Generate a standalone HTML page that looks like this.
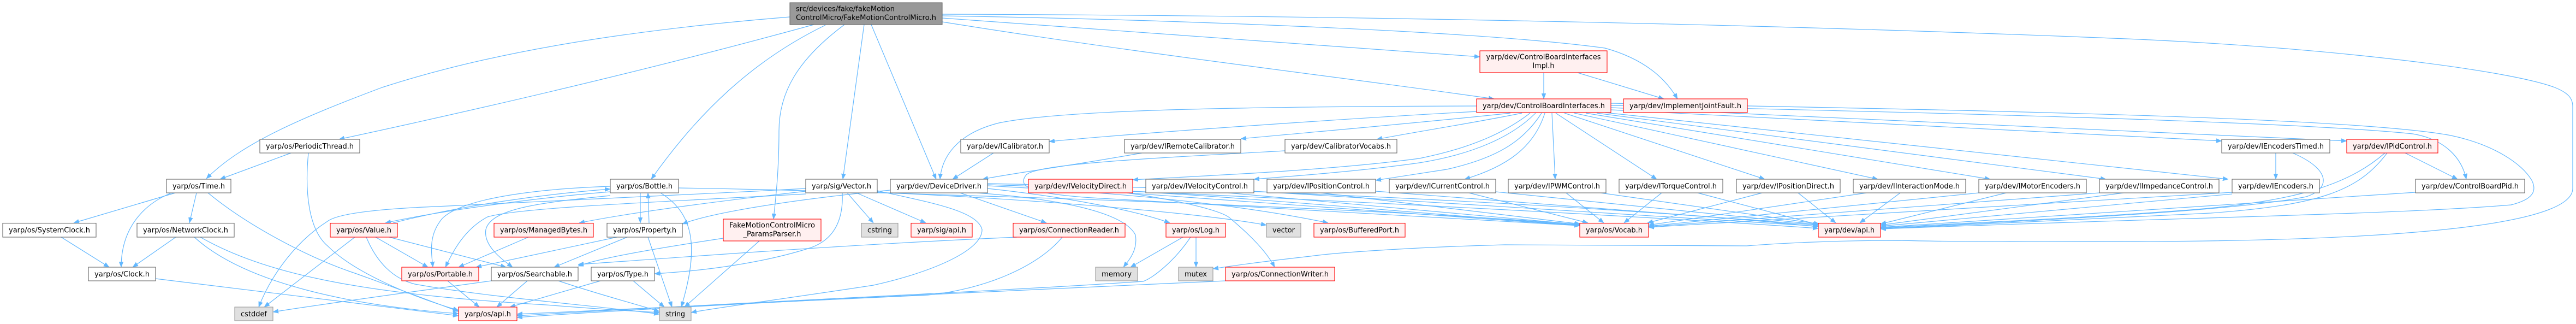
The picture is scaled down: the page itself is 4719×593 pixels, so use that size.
<!DOCTYPE html>
<html><head><meta charset="utf-8"><style>
html,body{margin:0;padding:0;background:#fff;}
svg{display:block;}
.e{fill:none;stroke:#63b8ff;stroke-width:1.2;marker-end:url(#ah);}
.n rect{stroke-width:1.1;}
.w{fill:#fff;stroke:#666;}
.r{fill:#fff0f0;stroke:#ff0000;}
.g{fill:#999;stroke:#666;}
.l{fill:#e0e0e0;stroke:#999;}
text{font-family:"DejaVu Sans","Liberation Sans",sans-serif;font-size:13px;fill:#000;}
</style></head><body>
<svg width="4719" height="593" viewBox="0 0 4719 593" xmlns="http://www.w3.org/2000/svg">
<defs><marker id="ah" markerUnits="userSpaceOnUse" viewBox="0 0 10 8" refX="10" refY="4" markerWidth="10" markerHeight="8" orient="auto"><path d="M0,0 L10,4 L0,8 z" fill="#63b8ff" stroke="#63b8ff" stroke-width="0.5"/></marker></defs>

<!-- edges -->
<path class="e" d="M1447,31 C1150,55 900,95 700,160 C540,220 440,265 378,327"/>
<path class="e" d="M1491,45 C1200,125 900,195 621,255"/>
<path class="e" d="M1512,46 C1380,110 1280,205 1193,328"/>
<path class="e" d="M1547,45 C1460,110 1427,170 1427,240 C1427,320 1420,370 1417,401"/>
<path class="e" d="M1583,45 L1544,328"/>
<path class="e" d="M1596,45 L1715,328"/>
<path class="e" d="M1726,33 C2100,60 2450,85 2711,104"/>
<path class="e" d="M1726,40 C2100,100 2450,140 2737,181"/>
<path class="e" d="M1726,29 C2100,35 2700,55 2940,88 C3020,110 3055,150 3073,181"/>
<path class="e" d="M1726,26 C2400,28 3200,42 3919,72 C4300,90 4600,130 4680,160 C4705,170 4713,180 4713,195 L4713,345 C4713,400 4500,440 3919,442 C3700,443 3550,442 3480,440 C3350,440 3250,446 3200,450 C3000,450 2800,448 2757,448 C2600,452 2450,462 2400,469 C2320,478 2260,486 2222,492"/>
<path class="e" d="M2828,133 L2828,181"/>
<path class="e" d="M2890,133 L3048,181"/>
<path class="e" d="M2705,194 C2300,195 1950,200 1830,225 C1750,245 1725,290 1722,328"/>
<path class="e" d="M2706,204 C2500,215 2100,242 1922,259"/>
<path class="e" d="M2767,207 C2600,225 2400,242 2273,254"/>
<path class="e" d="M2788,207 C2700,225 2600,240 2522,255"/>
<path class="e" d="M2803,207 C2760,240 2700,270 2600,290 C2450,310 2250,320 2075,329"/>
<path class="e" d="M2813,207 C2770,250 2700,282 2600,298 C2500,312 2400,320 2297,328"/>
<path class="e" d="M2824,207 C2790,260 2740,290 2650,310 C2600,318 2560,324 2520,330"/>
<path class="e" d="M2830,207 C2810,270 2760,305 2683,328"/>
<path class="e" d="M2843,207 L2849,328"/>
<path class="e" d="M2850,207 L3035,328"/>
<path class="e" d="M2866,207 L3233,328"/>
<path class="e" d="M2884,207 L3440,328"/>
<path class="e" d="M2905,207 L3646,328"/>
<path class="e" d="M2925,207 L3858,328"/>
<path class="e" d="M2940,206 L4082,328"/>
<path class="e" d="M2951,201 L4070,258"/>
<path class="e" d="M2951,197 L4299,258"/>
<path class="e" d="M2951,193 C3500,205 4200,222 4420,245 C4480,255 4510,290 4518,328"/>
<path class="e" d="M2951,189 C3500,200 4300,212 4490,248 C4570,265 4620,300 4638,330 C4648,350 4640,365 4600,375 C4400,392 4000,398 3445,419"/>
<path class="e" d="M1820,280 L1745,328"/>
<path class="e" d="M2092,280 C1950,305 1850,318 1800,328"/>
<path class="e" d="M2354,276 C2100,290 1900,300 1880,320 C1860,345 1900,355 2000,362 C2400,385 2700,400 2894,413"/>
<path class="e" d="M533,280 L403,328"/>
<path class="e" d="M565,280 C558,350 565,420 600,450 C650,500 760,545 840,568"/>
<path class="e" d="M321,353 L135,408"/>
<path class="e" d="M314,353 C260,375 222,420 222,489"/>
<path class="e" d="M360,353 L347,408"/>
<path class="e" d="M381,353 C450,410 560,470 650,500 C720,525 780,548 840,570"/>
<path class="e" d="M112,434 L200,489"/>
<path class="e" d="M322,434 L243,489"/>
<path class="e" d="M356,434 C450,520 650,560 840,574"/>
<path class="e" d="M367,434 C500,510 700,540 1000,558 C1100,566 1170,570 1208,572"/>
<path class="e" d="M285,510 C500,535 700,560 840,578"/>
<path class="e" d="M650,434 L484,562"/>
<path class="e" d="M688,434 L784,489"/>
<path class="e" d="M713,434 L927,489"/>
<path class="e" d="M671,434 C690,480 720,510 760,520 C900,545 1100,560 1208,575"/>
<path class="e" d="M720,408 C850,375 1000,355 1118,346"/>
<path class="e" d="M1118,351 C980,362 800,387 706,408"/>
<path class="e" d="M968,434 L840,489"/>
<path class="e" d="M1130,434 L872,489"/>
<path class="e" d="M1149,434 L1015,489"/>
<path class="e" d="M1187,434 L1231,562"/>
<path class="e" d="M1189,408 L1187,353"/>
<path class="e" d="M1173,353 L1173,408"/>
<path class="e" d="M1210,353 C1270,390 1282,450 1248,562"/>
<path class="e" d="M1118,341 C1000,345 850,360 810,400 C785,430 790,460 793,489"/>
<path class="e" d="M1118,358 C1000,370 900,380 890,420 C885,450 920,475 939,489"/>
<path class="e" d="M1243,344 C1500,348 1700,356 1900,362 C2300,375 2700,395 2894,411"/>
<path class="e" d="M820,514 L878,562"/>
<path class="e" d="M900,514 C750,535 600,555 500,571"/>
<path class="e" d="M966,514 L910,562"/>
<path class="e" d="M1023,514 C1100,540 1160,555 1208,570"/>
<path class="e" d="M1100,514 L934,562"/>
<path class="e" d="M1160,514 L1217,562"/>
<path class="e" d="M1391,441 L1254,562"/>
<path class="e" d="M1325,436 C1200,455 1100,472 1059,487"/>
<path class="e" d="M1552,353 L1600,408"/>
<path class="e" d="M1569,353 L1696,408"/>
<path class="e" d="M1543,353 C1545,400 1530,440 1480,455 C1400,480 1300,495 1199,501"/>
<path class="e" d="M1476,345 C1200,360 900,375 800,378 C700,382 620,390 600,405 C530,450 490,520 474,562"/>
<path class="e" d="M1476,350 C1300,370 1150,390 1061,408"/>
<path class="e" d="M1476,355 C1200,370 950,380 893,397 C850,420 830,460 816,489"/>
<path class="e" d="M1607,352 C1900,365 2200,390 2320,412"/>
<path class="e" d="M1607,349 C1700,370 1790,385 1799,420 C1800,460 1700,500 1600,522 C1450,545 1300,565 1266,572"/>
<path class="e" d="M1759,353 L1917,408"/>
<path class="e" d="M1809,345 C1950,360 2080,385 2143,408"/>
<path class="e" d="M1809,340 C2100,355 2300,380 2433,408"/>
<path class="e" d="M1790,353 C1950,365 2060,390 2080,430 C2085,460 2065,480 2058,489"/>
<path class="e" d="M1631,348 C1450,365 1300,390 1250,410"/>
<path class="e" d="M1809,338 C2200,350 2600,392 2894,412"/>
<path class="e" d="M1809,336 C2300,345 3000,380 3331,415"/>
<path class="e" d="M1863,434 C1500,450 1200,475 1059,484"/>
<path class="e" d="M1946,434 C1900,490 1800,530 1700,540 C1400,555 1100,566 947,575"/>
<path class="e" d="M2167,434 L2071,489"/>
<path class="e" d="M2191,434 L2191,489"/>
<path class="e" d="M2181,434 C2150,480 2110,510 2094,515 C1800,535 1300,556 947,578"/>
<path class="e" d="M2245,514 C1900,530 1300,556 947,581"/>
<path class="e" d="M2064,353 C2150,365 2240,385 2254,400 C2290,430 2320,460 2335,489"/>
<path class="e" d="M2064,353 C2400,375 2700,400 2894,413"/>
<path class="e" d="M2075,350 C2500,370 3000,395 3331,418"/>
<path class="e" d="M2250,353 L2894,411"/>
<path class="e" d="M2297,350 L3331,414"/>
<path class="e" d="M2420,353 L2895,410"/>
<path class="e" d="M2520,350 L3331,412"/>
<path class="e" d="M2691,353 L2909,408"/>
<path class="e" d="M2740,351 L3331,411"/>
<path class="e" d="M2869,353 L2938,408"/>
<path class="e" d="M2932,353 L3333,410"/>
<path class="e" d="M3044,353 L2975,408"/>
<path class="e" d="M3110,353 L3334,412"/>
<path class="e" d="M3228,353 L3018,408"/>
<path class="e" d="M3294,353 L3363,408"/>
<path class="e" d="M3419,353 L3020,412"/>
<path class="e" d="M3481,353 L3407,408"/>
<path class="e" d="M3625,353 L3020,414"/>
<path class="e" d="M3675,353 L3445,410"/>
<path class="e" d="M3846,353 L3020,415"/>
<path class="e" d="M3890,353 L3445,412"/>
<path class="e" d="M4089,352 L3020,416"/>
<path class="e" d="M4089,355 L3445,414"/>
<path class="e" d="M4425,352 L3445,416"/>
<path class="e" d="M4169,280 L4169,328"/>
<path class="e" d="M4200,280 C4270,310 4270,345 4225,360 C4100,385 3800,400 3445,418"/>
<path class="e" d="M4406,280 L4502,328"/>
<path class="e" d="M4369,280 C4300,340 4200,370 4000,385 C3800,400 3600,408 3445,417"/>
<path class="e" d="M4373,280 C4320,350 4250,375 4050,390 C3800,402 3600,410 3445,419"/>

<!-- nodes -->
<g class="n">
<rect class="g" x="1447" y="5" width="279" height="40"/>
<text x="1458" y="20.5" textLength="181" lengthAdjust="spacingAndGlyphs">src/devices/fake/fakeMotion</text>
<text x="1458" y="36.5" textLength="257" lengthAdjust="spacingAndGlyphs">ControlMicro/FakeMotionControlMicro.h</text>

<rect class="r" x="2711" y="93" width="233" height="40"/>
<text x="2827.5" y="108.5" text-anchor="middle" textLength="210" lengthAdjust="spacingAndGlyphs">yarp/dev/ControlBoardInterfaces</text>
<text x="2827.5" y="124.5" text-anchor="middle" textLength="40" lengthAdjust="spacingAndGlyphs">Impl.h</text>

<rect class="r" x="2705" y="181" width="246" height="25"/>
<text x="2828" y="198" text-anchor="middle" textLength="224" lengthAdjust="spacingAndGlyphs">yarp/dev/ControlBoardInterfaces.h</text>
<rect class="r" x="2974" y="181" width="227" height="25"/>
<text x="3087.5" y="198" text-anchor="middle" textLength="205" lengthAdjust="spacingAndGlyphs">yarp/dev/ImplementJointFault.h</text>

<rect class="w" x="476" y="255" width="183" height="25"/>
<text x="567.5" y="272" text-anchor="middle" textLength="161" lengthAdjust="spacingAndGlyphs">yarp/os/PeriodicThread.h</text>
<rect class="w" x="1760" y="255" width="162" height="25"/>
<text x="1841" y="272" text-anchor="middle" textLength="140" lengthAdjust="spacingAndGlyphs">yarp/dev/ICalibrator.h</text>
<rect class="w" x="2060" y="255" width="213" height="25"/>
<text x="2166.5" y="272" text-anchor="middle" textLength="191" lengthAdjust="spacingAndGlyphs">yarp/dev/IRemoteCalibrator.h</text>
<rect class="w" x="2354" y="255" width="205" height="25"/>
<text x="2456.5" y="272" text-anchor="middle" textLength="183" lengthAdjust="spacingAndGlyphs">yarp/dev/CalibratorVocabs.h</text>
<rect class="w" x="4070" y="255" width="198" height="25"/>
<text x="4169" y="272" text-anchor="middle" textLength="176" lengthAdjust="spacingAndGlyphs">yarp/dev/IEncodersTimed.h</text>
<rect class="r" x="4299" y="255" width="167" height="25"/>
<text x="4382.5" y="272" text-anchor="middle" textLength="145" lengthAdjust="spacingAndGlyphs">yarp/dev/IPidControl.h</text>

<rect class="w" x="305" y="328" width="118" height="25"/>
<text x="364" y="345" text-anchor="middle" textLength="96" lengthAdjust="spacingAndGlyphs">yarp/os/Time.h</text>
<rect class="w" x="1118" y="328" width="125" height="25"/>
<text x="1180.5" y="345" text-anchor="middle" textLength="103" lengthAdjust="spacingAndGlyphs">yarp/os/Bottle.h</text>
<rect class="w" x="1476" y="328" width="131" height="25"/>
<text x="1541.5" y="345" text-anchor="middle" textLength="109" lengthAdjust="spacingAndGlyphs">yarp/sig/Vector.h</text>
<rect class="w" x="1631" y="328" width="178" height="25"/>
<text x="1720" y="345" text-anchor="middle" textLength="156" lengthAdjust="spacingAndGlyphs">yarp/dev/DeviceDriver.h</text>
<rect class="r" x="1884" y="328" width="191" height="25"/>
<text x="1979.5" y="345" text-anchor="middle" textLength="169" lengthAdjust="spacingAndGlyphs">yarp/dev/IVelocityDirect.h</text>
<rect class="w" x="2099" y="328" width="198" height="25"/>
<text x="2198" y="345" text-anchor="middle" textLength="176" lengthAdjust="spacingAndGlyphs">yarp/dev/IVelocityControl.h</text>
<rect class="w" x="2321" y="328" width="199" height="25"/>
<text x="2420.5" y="345" text-anchor="middle" textLength="177" lengthAdjust="spacingAndGlyphs">yarp/dev/IPositionControl.h</text>
<rect class="w" x="2545" y="328" width="195" height="25"/>
<text x="2642.5" y="345" text-anchor="middle" textLength="173" lengthAdjust="spacingAndGlyphs">yarp/dev/ICurrentControl.h</text>
<rect class="w" x="2763" y="328" width="179" height="25"/>
<text x="2852.5" y="345" text-anchor="middle" textLength="157" lengthAdjust="spacingAndGlyphs">yarp/dev/IPWMControl.h</text>
<rect class="w" x="2966" y="328" width="190" height="25"/>
<text x="3061" y="345" text-anchor="middle" textLength="168" lengthAdjust="spacingAndGlyphs">yarp/dev/ITorqueControl.h</text>
<rect class="w" x="3181" y="328" width="190" height="25"/>
<text x="3276" y="345" text-anchor="middle" textLength="168" lengthAdjust="spacingAndGlyphs">yarp/dev/IPositionDirect.h</text>
<rect class="w" x="3395" y="328" width="206" height="25"/>
<text x="3498" y="345" text-anchor="middle" textLength="184" lengthAdjust="spacingAndGlyphs">yarp/dev/IInteractionMode.h</text>
<rect class="w" x="3625" y="328" width="197" height="25"/>
<text x="3723.5" y="345" text-anchor="middle" textLength="175" lengthAdjust="spacingAndGlyphs">yarp/dev/IMotorEncoders.h</text>
<rect class="w" x="3846" y="328" width="219" height="25"/>
<text x="3955.5" y="345" text-anchor="middle" textLength="197" lengthAdjust="spacingAndGlyphs">yarp/dev/IImpedanceControl.h</text>
<rect class="w" x="4089" y="328" width="160" height="25"/>
<text x="4169" y="345" text-anchor="middle" textLength="138" lengthAdjust="spacingAndGlyphs">yarp/dev/IEncoders.h</text>
<rect class="w" x="4425" y="328" width="200" height="25"/>
<text x="4525" y="345" text-anchor="middle" textLength="178" lengthAdjust="spacingAndGlyphs">yarp/dev/ControlBoardPid.h</text>

<rect class="w" x="5" y="408.5" width="171" height="25.5"/>
<text x="90.5" y="425.5" text-anchor="middle" textLength="149" lengthAdjust="spacingAndGlyphs">yarp/os/SystemClock.h</text>
<rect class="w" x="251" y="408.5" width="178" height="25.5"/>
<text x="340" y="425.5" text-anchor="middle" textLength="156" lengthAdjust="spacingAndGlyphs">yarp/os/NetworkClock.h</text>
<rect class="r" x="605" y="408.5" width="123" height="25.5"/>
<text x="666.5" y="425.5" text-anchor="middle" textLength="101" lengthAdjust="spacingAndGlyphs">yarp/os/Value.h</text>
<rect class="r" x="905" y="408.5" width="182" height="25.5"/>
<text x="996" y="425.5" text-anchor="middle" textLength="160" lengthAdjust="spacingAndGlyphs">yarp/os/ManagedBytes.h</text>
<rect class="w" x="1112" y="408.5" width="138" height="25.5"/>
<text x="1181" y="425.5" text-anchor="middle" textLength="116" lengthAdjust="spacingAndGlyphs">yarp/os/Property.h</text>
<rect class="r" x="1325" y="401" width="179" height="40"/>
<text x="1414.5" y="416.5" text-anchor="middle" textLength="157" lengthAdjust="spacingAndGlyphs">FakeMotionControlMicro</text>
<text x="1414.5" y="432.5" text-anchor="middle" textLength="106" lengthAdjust="spacingAndGlyphs">_ParamsParser.h</text>
<rect class="l" x="1578" y="408.5" width="67" height="25.5"/>
<text x="1611.5" y="425.5" text-anchor="middle" textLength="45" lengthAdjust="spacingAndGlyphs">cstring</text>
<rect class="r" x="1669" y="408.5" width="112" height="25.5"/>
<text x="1725" y="425.5" text-anchor="middle" textLength="90" lengthAdjust="spacingAndGlyphs">yarp/sig/api.h</text>
<rect class="r" x="1856" y="408.5" width="205" height="25.5"/>
<text x="1958.5" y="425.5" text-anchor="middle" textLength="183" lengthAdjust="spacingAndGlyphs">yarp/os/ConnectionReader.h</text>
<rect class="r" x="2136" y="408.5" width="109" height="25.5"/>
<text x="2190.5" y="425.5" text-anchor="middle" textLength="87" lengthAdjust="spacingAndGlyphs">yarp/os/Log.h</text>
<rect class="l" x="2320" y="408.5" width="63" height="25.5"/>
<text x="2351.5" y="425.5" text-anchor="middle" textLength="41" lengthAdjust="spacingAndGlyphs">vector</text>
<rect class="r" x="2407" y="408.5" width="167" height="25.5"/>
<text x="2490.5" y="425.5" text-anchor="middle" textLength="145" lengthAdjust="spacingAndGlyphs">yarp/os/BufferedPort.h</text>
<rect class="r" x="2894" y="408.5" width="126" height="25.5"/>
<text x="2957" y="425.5" text-anchor="middle" textLength="104" lengthAdjust="spacingAndGlyphs">yarp/os/Vocab.h</text>
<rect class="r" x="3331" y="408.5" width="114" height="25.5"/>
<text x="3388" y="425.5" text-anchor="middle" textLength="92" lengthAdjust="spacingAndGlyphs">yarp/dev/api.h</text>

<rect class="w" x="162" y="489" width="123" height="25"/>
<text x="223.5" y="506" text-anchor="middle" textLength="101" lengthAdjust="spacingAndGlyphs">yarp/os/Clock.h</text>
<rect class="r" x="736" y="489" width="141" height="25"/>
<text x="806.5" y="506" text-anchor="middle" textLength="119" lengthAdjust="spacingAndGlyphs">yarp/os/Portable.h</text>
<rect class="w" x="900" y="489" width="159" height="25"/>
<text x="979.5" y="506" text-anchor="middle" textLength="137" lengthAdjust="spacingAndGlyphs">yarp/os/Searchable.h</text>
<rect class="w" x="1083" y="489" width="116" height="25"/>
<text x="1141" y="506" text-anchor="middle" textLength="94" lengthAdjust="spacingAndGlyphs">yarp/os/Type.h</text>
<rect class="l" x="2007" y="489" width="77" height="25"/>
<text x="2045.5" y="506" text-anchor="middle" textLength="55" lengthAdjust="spacingAndGlyphs">memory</text>
<rect class="l" x="2159" y="489" width="63" height="25"/>
<text x="2190.5" y="506" text-anchor="middle" textLength="41" lengthAdjust="spacingAndGlyphs">mutex</text>
<rect class="r" x="2245" y="489" width="200" height="25"/>
<text x="2345" y="506" text-anchor="middle" textLength="178" lengthAdjust="spacingAndGlyphs">yarp/os/ConnectionWriter.h</text>

<rect class="l" x="430" y="562" width="70" height="25"/>
<text x="465" y="579" text-anchor="middle" textLength="48" lengthAdjust="spacingAndGlyphs">cstddef</text>
<rect class="r" x="840" y="562" width="107" height="25"/>
<text x="893.5" y="579" text-anchor="middle" textLength="85" lengthAdjust="spacingAndGlyphs">yarp/os/api.h</text>
<rect class="l" x="1208" y="562" width="58" height="25"/>
<text x="1237" y="579" text-anchor="middle" textLength="36" lengthAdjust="spacingAndGlyphs">string</text>
</g>
</svg>
</body></html>
